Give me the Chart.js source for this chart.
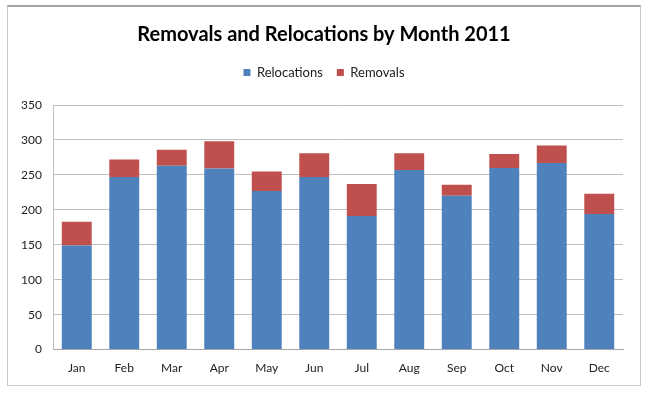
<!DOCTYPE html>
<html>
<head>
<meta charset="utf-8">
<script src="https://cdn.jsdelivr.net/npm/chart.js@4.4.1/dist/chart.umd.min.js"></script>
<style>
  html, body { margin: 0; padding: 0; background: #fff; }
  #wrap { position: relative; width: 650px; height: 395px; }
  #frame { position: absolute; left: 7px; top: 5px; width: 634px; height: 381px;
           border: 1px solid #c8c8c8; border-top: 2px solid #a6a6a6; box-sizing: border-box; }
  canvas { position: absolute; left: 0; top: 0; }
</style>
</head>
<body>
<div id="wrap">
  <div id="frame"></div>
  <canvas id="myChart" width="650" height="395"></canvas>
</div>
<script>
// datos
const months = ['Jan', 'Feb', 'Mar', 'Apr', 'May', 'Jun', 'Jul', 'Aug', 'Sep', 'Oct', 'Nov', 'Dec'];
const relocations = [149, 247, 263, 259, 227, 247, 191, 257, 220, 260, 267, 194];
const removals = [34, 25, 23, 39, 28, 34, 46, 24, 16, 20, 25, 29];
const yTicks = [0, 50, 100, 150, 200, 250, 300, 350];

// espacio extra debajo de la leyenda
const legendGap = {
    id: 'legendGap',
    beforeInit(chart) {
        const fit = chart.legend.fit;
        chart.legend.fit = function () {
            fit.call(this);
            this.height += 16;
        };
    }
};

const ctx = document.getElementById('myChart').getContext('2d');
new Chart(ctx, {
    type: 'bar',
    data: {
        labels: months,
        datasets: [{
            label: 'Relocations',
            data: relocations,
            backgroundColor: '#4f81bd',
            barPercentage: 0.63,
            categoryPercentage: 1
        }, {
            label: 'Removals',
            data: removals,
            backgroundColor: '#c0504d',
            barPercentage: 0.63,
            categoryPercentage: 1
        }]
    },
    plugins: [legendGap],
    options: {
        responsive: false,
        animation: false,
        layout: { padding: { left: 11, right: 13, top: 23, bottom: 9 } },
        plugins: {
            title: {
                display: true,
                text: 'Removals and Relocations by Month 2011',
                color: '#000',
                font: { family: 'Lato', size: 20, weight: 'bold' },
                padding: { top: 0, bottom: 5 }
            },
            legend: {
                labels: {
                    boxWidth: 7,
                    boxHeight: 7,
                    color: '#222',
                    font: { family: 'Lato', size: 13 },
                    padding: 14
                }
            },
            tooltip: { enabled: false }
        },
        scales: {
            x: {
                stacked: true,
                grid: { display: false, drawTicks: false },
                border: { color: '#a6a6a6' },
                ticks: { color: '#222', font: { family: 'Lato', size: 12 }, padding: 11 }
            },
            y: {
                stacked: true,
                min: 0,
                max: 350,
                afterFit: s => { s.width = 42; },
                afterBuildTicks: s => { s.ticks = yTicks.map(v => ({ value: v })); },
                grid: { color: '#bfbfbf', drawTicks: false },
                border: { color: '#bfbfbf' },
                ticks: { color: '#222', font: { family: 'Lato', size: 12 }, padding: 11 }
            },
            // eje vacío a la derecha, solo para dejar margen
            yRight: {
                position: 'right',
                min: 0,
                max: 1,
                afterFit: s => { s.width = 14; },
                grid: { display: false, drawTicks: false },
                border: { display: false },
                ticks: { display: false }
            }
        }
    }
});
</script>
</body>
</html>
